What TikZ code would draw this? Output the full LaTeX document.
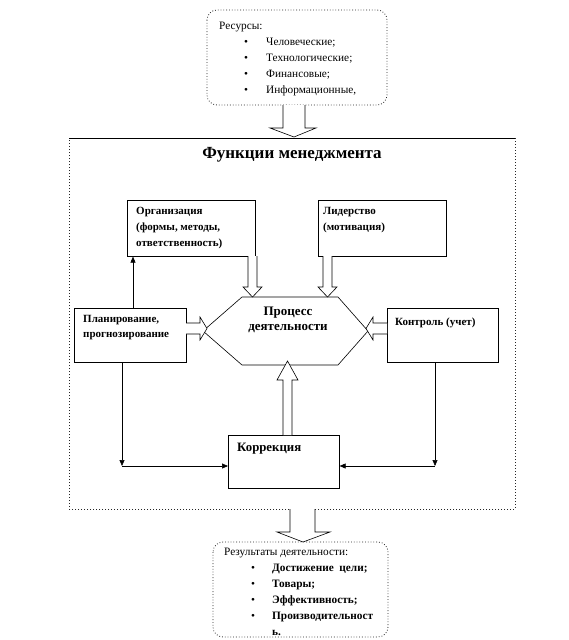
\documentclass[tikz,border=0pt]{standalone}
\usepackage{fontspec}
\setmainfont{Liberation Serif}
\usetikzlibrary{calc,arrows.meta}
\begin{document}
\begin{tikzpicture}[x=1pt,y=-1pt,
  box/.style={draw,line width=0.6pt,anchor=north west,inner sep=0},
  txt/.style={anchor=north west,inner sep=0,align=left,font=\bfseries\fontsize{11}{16}\selectfont},
  rtxt/.style={anchor=north west,inner sep=0,align=left,font=\fontsize{11.3}{16}\selectfont},
  blk/.style={draw,fill=white,line width=0.6pt,line join=miter},
  conn/.style={draw,line width=0.6pt,-{Triangle[length=6pt,width=5pt]}},
  rbox/.style={draw=black!85,dotted,line width=0.8pt,rounded corners=10pt},
  frm/.style={draw=black!85,dotted,line width=1pt}]
\useasboundingbox (0,0) rectangle (568,640);
\fill[white] (0,0) rectangle (568,640);

% resources box
\draw[rbox] (207,10) rectangle (387,105);
\node[rtxt] (res) at (219,21.5) {Ресурсы:\\
\hspace*{25pt}\makebox[22pt][l]{•}Человеческие;\\
\hspace*{25pt}\makebox[22pt][l]{•}Технологические;\\
\hspace*{25pt}\makebox[22pt][l]{•}Финансовые;\\
\hspace*{25pt}\makebox[22pt][l]{•}Информационные,};

% frame
\draw[line width=0.8pt] (69,138) -- (515,138);
\draw[frm] (515,138) -- (515,509) -- (69,509) -- (69,138);
\node[font=\bfseries\fontsize{17}{20}\selectfont,inner sep=0] (title) at (292,155) {Функции менеджмента};

% boxes
\node[box,minimum width=128pt,minimum height=56pt] (org) at (127,200) {};
\node[txt] (orgt) at (136,207.5) {Организация\\(формы, методы,\\ответственность)};
\node[box,minimum width=128pt,minimum height=56pt] (lead) at (318,200) {};
\node[txt] (leadt) at (323,207.5) {Лидерство\\(мотивация)};
\node[box,minimum width=112pt,minimum height=54pt] (plan) at (74,308) {};
\node[txt,font=\bfseries\fontsize{11}{15}\selectfont] (plant) at (83,315.5) {Планирование,\\прогнозирование};
\node[box,minimum width=111pt,minimum height=54pt] (ctrl) at (387,308) {};
\node[txt] (ctrlt) at (395,317.5) {Контроль (учет)};
\node[box,minimum width=111pt,minimum height=53pt] (corr) at (228,435) {};
\node[txt,font=\bfseries\fontsize{12.8}{16}\selectfont] (corrt) at (237,442.5) {Коррекция};

% hexagon
\coordinate (hl) at (203,331);
\coordinate (htl) at (242,297);
\coordinate (htr) at (338,297);
\coordinate (hr) at (368,331);
\coordinate (hbr) at (338,365);
\coordinate (hbl) at (242,365);
\draw[line width=0.6pt] (hl) -- (htl) -- (htr) -- (hr) -- (hbr) -- (hbl) -- cycle;
\node[font=\bfseries\fontsize{13}{15}\selectfont,align=center,inner sep=0] (proc) at (288,320) {Процесс\\деятельности};

% block arrows
\path[blk] (283,105) -- (283,128) -- (270,128) -- (294,137) -- (316,128) -- (305,128) -- (305,105);
\path[blk] (290,509) -- (290,532) -- (277,532) -- (303,542) -- (330,532) -- (315,532) -- (315,509);
\path[blk] (248,256) -- (248,287) -- (243,287) -- (252.5,297) -- (262,287) -- (257,287) -- (257,256);
\path[blk] (323,256) -- (323,287) -- (318,287) -- (327.5,297) -- (337,287) -- (332,287) -- (332,256);
\path[blk] (186,323) -- (200,323) -- (200,317) -- (207,328.5) -- (200,340) -- (200,334) -- (186,334);
\path[blk] (387,323) -- (373,323) -- (373,317) -- (366,328.5) -- (373,340) -- (373,334) -- (387,334);
\path[blk] (283,435) -- (283,380) -- (277,380) -- (287.5,361) -- (298,380) -- (292,380) -- (292,435);

% thin connectors
\coordinate (c1) at (133,0);
\draw[conn] (c1 |- plan.north) -- (c1 |- org.south);
\coordinate (cl) at (122,466);
\coordinate (cr) at (435,466);
\draw[conn] (cl |- plan.south) -- (cl);
\draw[conn] (cl) -- (cl -| corr.west);
\draw[conn] (cr |- ctrl.south) -- (cr);
\draw[conn] (cr) -- (cr -| corr.east);

% results box
\draw[rbox] (213,542) rectangle (388,637);
\node[rtxt] (resl) at (224,547.5) {Результаты деятельности:\\
\hspace*{27pt}\makebox[21pt][l]{•}\textbf{Достижение\ \ цели;}\\
\hspace*{27pt}\makebox[21pt][l]{•}\textbf{Товары;}\\
\hspace*{27pt}\makebox[21pt][l]{•}\textbf{Эффективность;}\\
\hspace*{27pt}\makebox[21pt][l]{•}\textbf{Производительност}\\
\hspace*{48pt}\textbf{ь.}};
\end{tikzpicture}
\end{document}
